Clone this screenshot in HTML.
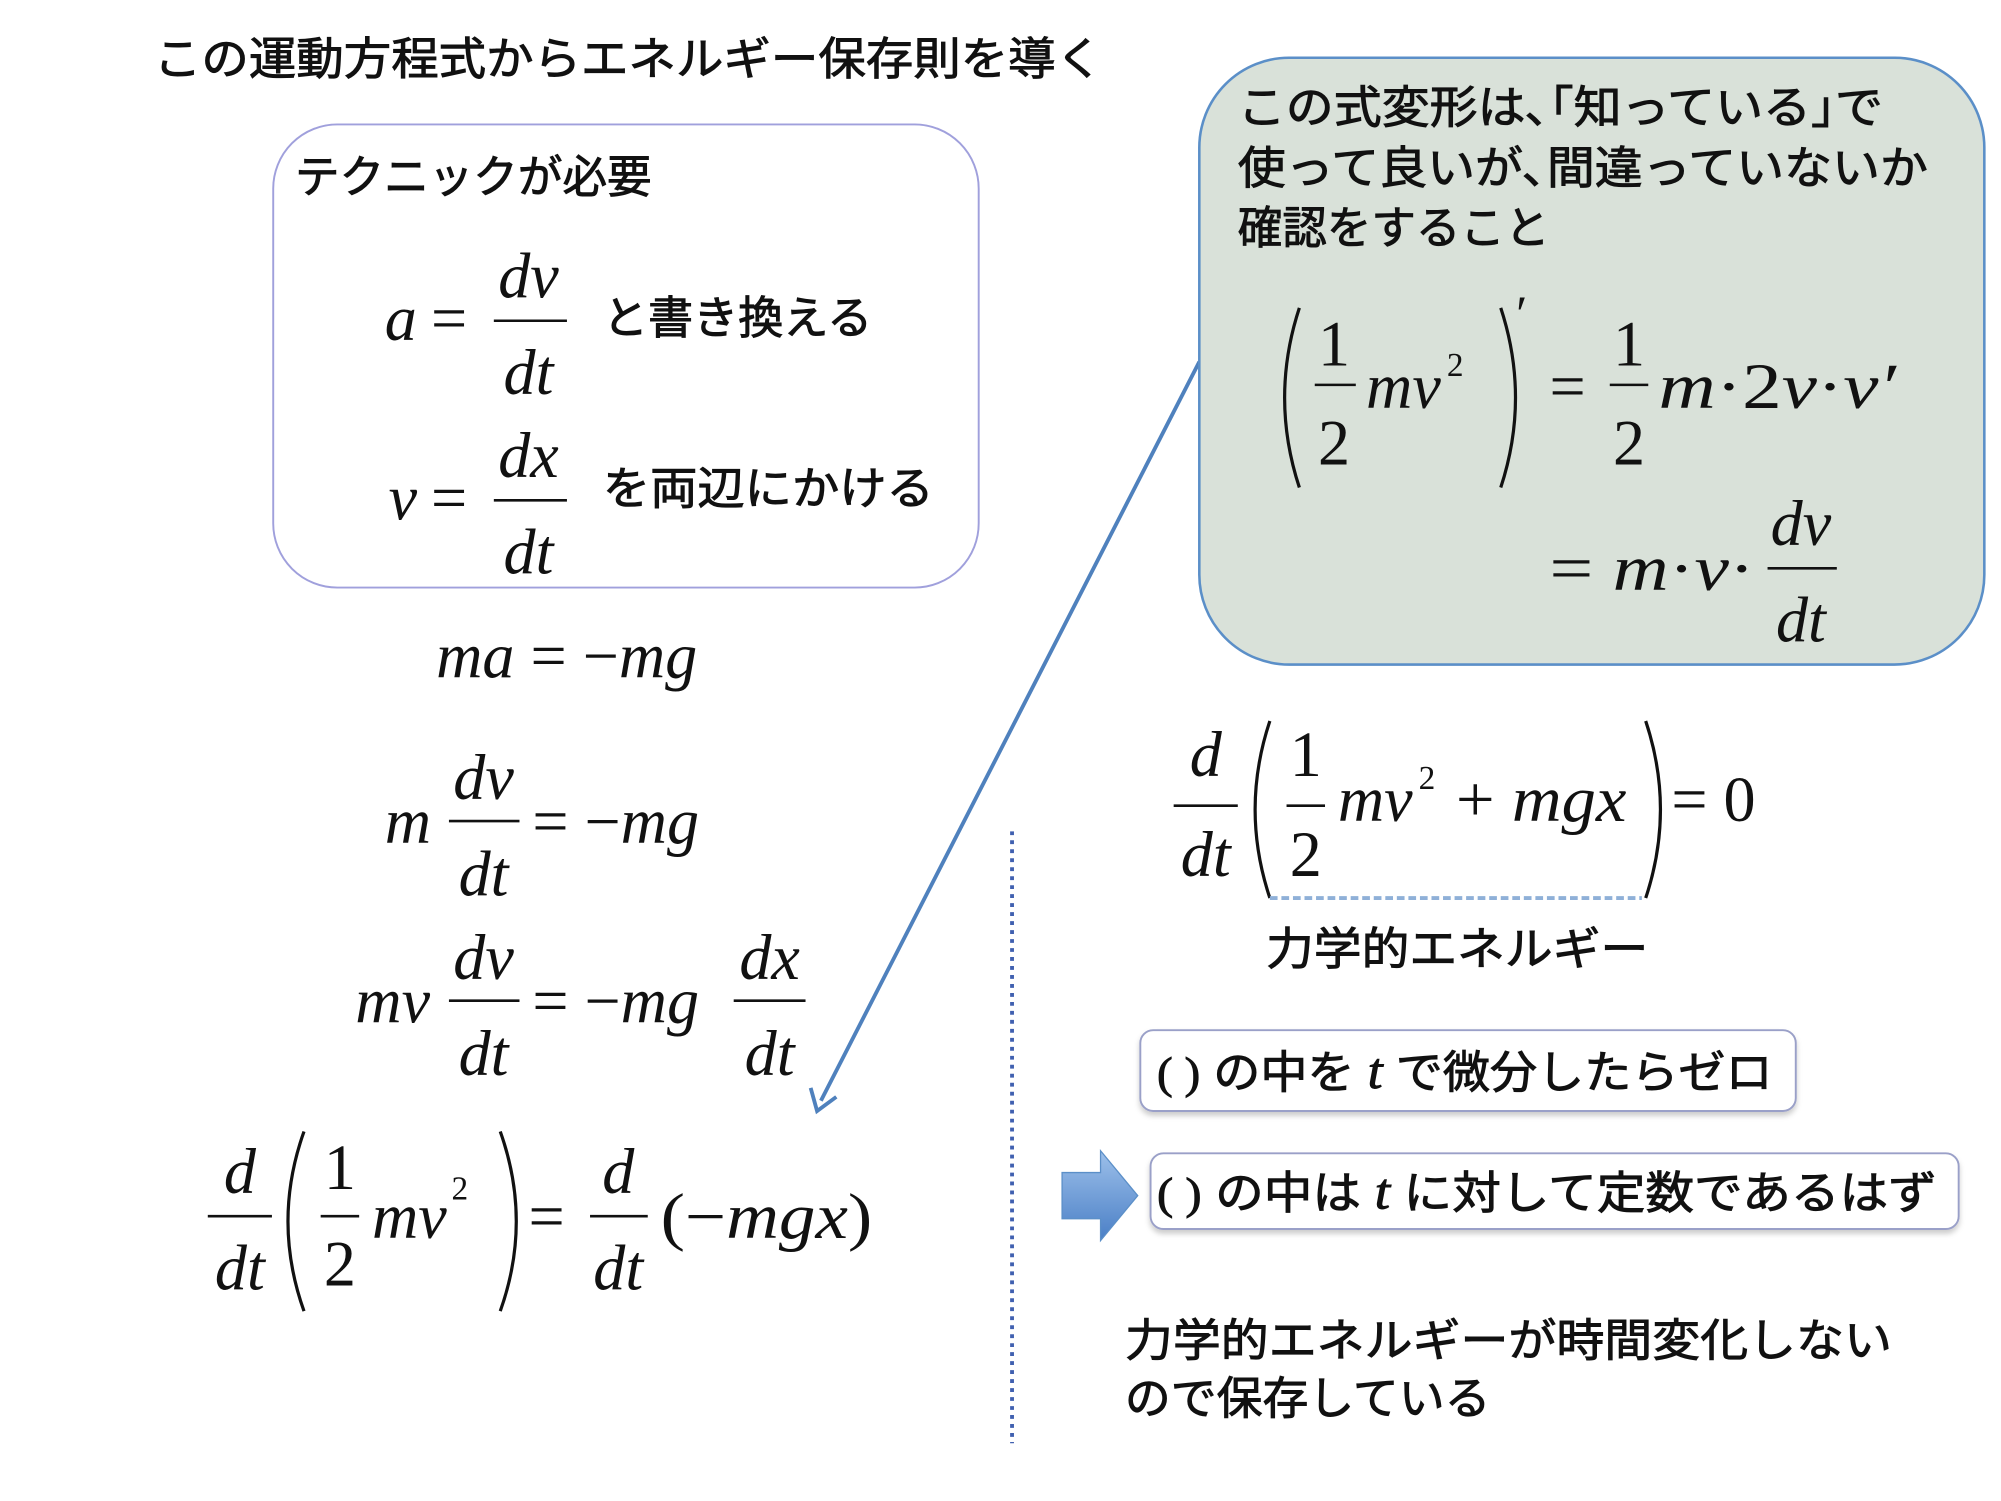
<!DOCTYPE html>
<html><head><meta charset="utf-8"><style>html,body{margin:0;padding:0;background:#fff;}svg{display:block}
.j{font-family:"Liberation Sans","Noto Sans CJK JP",sans-serif;font-size:35px;fill:#111;stroke:#111;stroke-width:0.7}
.m{font-family:"Liberation Serif",serif;font-style:italic;font-size:50px;fill:#111}
.r{font-family:"Liberation Serif",serif;font-size:50px;fill:#111}
.c{text-anchor:middle}
</style></head><body>
<svg width="2001" height="1501" viewBox="0 0 1560 1170" preserveAspectRatio="none" xmlns="http://www.w3.org/2000/svg">
<defs>
<linearGradient id="g" x1="0" y1="0" x2="0" y2="1"><stop offset="0" stop-color="#9dc0ea"/><stop offset="1" stop-color="#4a7fc6"/></linearGradient>
<filter id="sh" x="-5%" y="-20%" width="110%" height="150%"><feDropShadow dx="0" dy="3" stdDeviation="2" flood-color="#000" flood-opacity="0.2"/></filter>
</defs>
<text class="j" x="120" y="58" textLength="740" lengthAdjust="spacingAndGlyphs">この運動方程式からエネルギー保存則を導く</text>

<rect x="213" y="97" width="550" height="361" rx="50" fill="#fff" stroke="#a0a0dc" stroke-width="1.5"/>
<text class="j" x="230" y="150" textLength="278" lengthAdjust="spacingAndGlyphs">テクニックが必要</text>
<text class="m" x="300" y="265">a</text><text class="r" x="336" y="265">=</text>
<text class="m c" x="412" y="232">dv</text><line x1="385" y1="250" x2="442" y2="250" stroke="#111" stroke-width="2"/><text class="m c" x="412" y="307">dt</text>
<text class="j" x="470" y="260" textLength="210" lengthAdjust="spacingAndGlyphs">と書き換える</text>
<text class="m" x="303" y="405">v</text><text class="r" x="336" y="405">=</text>
<text class="m c" x="412" y="372">dx</text><line x1="385" y1="390" x2="442" y2="390" stroke="#111" stroke-width="2"/><text class="m c" x="412" y="447">dt</text>
<text class="j" x="470" y="393" textLength="258" lengthAdjust="spacingAndGlyphs">を両辺にかける</text>

<text class="m" x="340" y="528">ma <tspan class="r" style="font-style:normal">= −</tspan>mg</text>

<text class="m" x="300" y="657">m</text>
<text class="m c" x="377" y="623">dv</text><line x1="350" y1="640" x2="405" y2="640" stroke="#111" stroke-width="2"/><text class="m c" x="377" y="698">dt</text>
<text class="m" x="415" y="657"><tspan style="font-style:normal">= −</tspan>mg</text>

<text class="m" x="277" y="797">mv</text>
<text class="m c" x="377" y="763">dv</text><line x1="350" y1="780" x2="405" y2="780" stroke="#111" stroke-width="2"/><text class="m c" x="377" y="838">dt</text>
<text class="m" x="415" y="797"><tspan style="font-style:normal">= −</tspan>mg</text>
<text class="m c" x="600" y="763">dx</text><line x1="572" y1="780" x2="628" y2="780" stroke="#111" stroke-width="2"/><text class="m c" x="600" y="838">dt</text>

<text class="m c" x="187" y="930">d</text><line x1="162" y1="948" x2="212" y2="948" stroke="#111" stroke-width="2"/><text class="m c" x="187" y="1005">dt</text>
<path d="M237 882 Q212 952 237 1022" fill="none" stroke="#111" stroke-width="2.5"/>
<text class="r c" x="265" y="927">1</text><line x1="250" y1="948" x2="280" y2="948" stroke="#111" stroke-width="2"/><text class="r c" x="265" y="1002">2</text>
<text class="m" x="290" y="965">mv</text><text class="r" x="352" y="935" style="font-size:26px">2</text>
<path d="M390 882 Q415 952 390 1022" fill="none" stroke="#111" stroke-width="2.5"/>
<text class="r" x="412" y="965">=</text>
<text class="m c" x="482" y="930">d</text><line x1="460" y1="948" x2="505" y2="948" stroke="#111" stroke-width="2"/><text class="m c" x="482" y="1005">dt</text>
<text class="m" x="515" y="965" textLength="165" lengthAdjust="spacingAndGlyphs"><tspan style="font-style:normal">(−</tspan>mgx<tspan style="font-style:normal">)</tspan></text>

<line x1="935" y1="282" x2="640" y2="858" stroke="#4f81bd" stroke-width="3"/>
<polyline points="632,848 637,866 652,855" fill="none" stroke="#4f81bd" stroke-width="3"/>

<rect x="935" y="45" width="612" height="473" rx="70" fill="#d9e1d9" stroke="#5b8fc8" stroke-width="2"/>
<text class="j" x="965" y="96" textLength="503" lengthAdjust="spacingAndGlyphs">この式変形は､｢知っている｣で</text>
<text class="j" x="965" y="143" textLength="538" lengthAdjust="spacingAndGlyphs">使って良いが､間違っていないか</text>
<text class="j" x="965" y="190" textLength="243" lengthAdjust="spacingAndGlyphs">確認をすること</text>
<path d="M1013 240 Q990 310 1013 380" fill="none" stroke="#111" stroke-width="2.5"/>
<text class="r c" x="1040" y="285">1</text><line x1="1025" y1="300" x2="1057" y2="300" stroke="#111" stroke-width="2"/><text class="r c" x="1040" y="362">2</text>
<text class="m" x="1065" y="318">mv</text><text class="r" x="1128" y="293" style="font-size:26px">2</text>
<path d="M1170 240 Q1193 310 1170 380" fill="none" stroke="#111" stroke-width="2.5"/>
<text class="r" x="1182" y="258" style="font-size:40px">′</text>
<text class="r" x="1208" y="318">=</text>
<text class="r c" x="1270" y="285">1</text><line x1="1255" y1="300" x2="1285" y2="300" stroke="#111" stroke-width="2"/><text class="r c" x="1270" y="362">2</text>
<text class="m" x="1293" y="318" textLength="185" lengthAdjust="spacingAndGlyphs">m<tspan style="font-style:normal">·2</tspan>v<tspan style="font-style:normal">·</tspan>v′</text>
<text class="m" x="1208" y="460" textLength="160" lengthAdjust="spacingAndGlyphs"><tspan style="font-style:normal">= </tspan>m<tspan style="font-style:normal">·</tspan>v<tspan style="font-style:normal">·</tspan></text>
<text class="m c" x="1404" y="425">dv</text><line x1="1378" y1="443" x2="1432" y2="443" stroke="#111" stroke-width="2"/><text class="m c" x="1404" y="500">dt</text>

<text class="m c" x="940" y="605">d</text><line x1="915" y1="628" x2="965" y2="628" stroke="#111" stroke-width="2"/><text class="m c" x="940" y="683">dt</text>
<path d="M990 562 Q967 631 990 700" fill="none" stroke="#111" stroke-width="2.5"/>
<text class="r c" x="1018" y="605">1</text><line x1="1003" y1="628" x2="1033" y2="628" stroke="#111" stroke-width="2"/><text class="r c" x="1018" y="683">2</text>
<text class="m" x="1043" y="640">mv</text><text class="r" x="1106" y="615" style="font-size:26px">2</text>
<text class="m" x="1135" y="640" textLength="133" lengthAdjust="spacingAndGlyphs"><tspan style="font-style:normal">+ </tspan>mgx</text>
<path d="M1283 562 Q1306 631 1283 700" fill="none" stroke="#111" stroke-width="2.5"/>
<text class="r" x="1303" y="640">= 0</text>
<line x1="990" y1="700" x2="1280" y2="700" stroke="#8fb0d8" stroke-width="3" stroke-dasharray="6 3"/>
<text class="j" x="987" y="752" textLength="298" lengthAdjust="spacingAndGlyphs">力学的エネルギー</text>

<line x1="789" y1="648" x2="789" y2="1125" stroke="#4060b0" stroke-width="3" stroke-dasharray="3 4"/>

<rect x="889" y="803" width="511" height="63" rx="10" fill="#fff" stroke="#9aa0c8" stroke-width="1.5" filter="url(#sh)"/>
<text class="j" x="902" y="848" textLength="480" lengthAdjust="spacingAndGlyphs"><tspan style="font-family:'Liberation Serif',serif">( )</tspan> の中を <tspan style="font-family:'Liberation Serif',serif;font-style:italic;font-size:40px">t</tspan> で微分したらゼロ</text>
<rect x="897" y="899" width="630" height="59" rx="10" fill="#fff" stroke="#9aa0c8" stroke-width="1.5" filter="url(#sh)"/>
<text class="j" x="902" y="942" textLength="608" lengthAdjust="spacingAndGlyphs"><tspan style="font-family:'Liberation Serif',serif">( )</tspan> の中は <tspan style="font-family:'Liberation Serif',serif;font-style:italic;font-size:40px">t</tspan>  に対して定数であるはず</text>
<polygon points="828,914 858,914 858,897 887,932 858,967 858,950 828,950" fill="url(#g)" stroke="#5b8fc8" stroke-width="1"/>

<text class="j" x="877" y="1057" textLength="598" lengthAdjust="spacingAndGlyphs">力学的エネルギーが時間変化しない</text>
<text class="j" x="877" y="1102" textLength="285" lengthAdjust="spacingAndGlyphs">ので保存している</text>
</svg>
</body></html>
